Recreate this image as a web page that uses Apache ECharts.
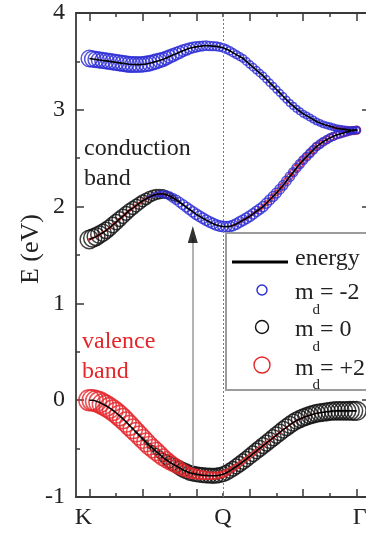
<!DOCTYPE html>
<html>
<head>
<meta charset="utf-8">
<script src="https://cdn.jsdelivr.net/npm/echarts@6/dist/echarts.min.js"></script>
<style>
  html, body { margin: 0; padding: 0; background: #ffffff; }
  #chart { width: 366px; height: 537px; }
</style>
</head>
<body>
<div id="chart"></div>
<script>
// k-path sampling between K (0), Q (5) and Γ (10)
const kPoints = [0, 0.125, 0.25, 0.375, 0.5, 0.625, 0.75, 0.875, 1, 1.125,
  1.25, 1.375, 1.5, 1.625, 1.75, 1.875, 2, 2.125, 2.25, 2.375,
  2.5, 2.625, 2.75, 2.875, 3, 3.125, 3.25, 3.375, 3.5, 3.625,
  3.75, 3.875, 4, 4.125, 4.25, 4.375, 4.5, 4.625, 4.75, 4.875,
  5, 5.125, 5.25, 5.375, 5.5, 5.625, 5.75, 5.875, 6, 6.125,
  6.25, 6.375, 6.5, 6.625, 6.75, 6.875, 7, 7.125, 7.25, 7.375,
  7.5, 7.625, 7.75, 7.875, 8, 8.125, 8.25, 8.375, 8.5, 8.625,
  8.75, 8.875, 9, 9.125, 9.25, 9.375, 9.5, 9.625, 9.75, 9.875,
  10];

// high-symmetry point labels
const kLabelPositions = [0, 5, 10];
const kLabelNames = ['K', 'Q', 'Γ'];

// band energies (eV)
const upperCondEnergy = [3.53, 3.525, 3.52, 3.515, 3.51, 3.505, 3.50, 3.495, 3.49, 3.485,
  3.48, 3.475, 3.47, 3.468, 3.467, 3.467, 3.47, 3.474, 3.48, 3.49,
  3.50, 3.51, 3.52, 3.535, 3.55, 3.565, 3.58, 3.595, 3.61, 3.623,
  3.635, 3.643, 3.65, 3.656, 3.66, 3.662, 3.66, 3.658, 3.655, 3.648,
  3.64, 3.626, 3.61, 3.59, 3.57, 3.55, 3.53, 3.50, 3.47, 3.44,
  3.41, 3.38, 3.35, 3.315, 3.28, 3.245, 3.21, 3.175, 3.14, 3.105,
  3.07, 3.04, 3.01, 2.985, 2.96, 2.94, 2.92, 2.90, 2.88, 2.865,
  2.85, 2.84, 2.83, 2.82, 2.81, 2.805, 2.80, 2.795, 2.79, 2.79,
  2.79];
const lowerCondEnergy = [1.66, 1.675, 1.69, 1.71, 1.73, 1.755, 1.78, 1.81, 1.84, 1.87,
  1.90, 1.93, 1.96, 1.985, 2.01, 2.035, 2.06, 2.08, 2.10, 2.115,
  2.125, 2.13, 2.13, 2.123, 2.11, 2.09, 2.07, 2.045, 2.02, 1.995,
  1.97, 1.945, 1.92, 1.90, 1.88, 1.86, 1.84, 1.825, 1.81, 1.80,
  1.795, 1.793, 1.795, 1.805, 1.82, 1.84, 1.86, 1.88, 1.90, 1.925,
  1.95, 1.975, 2.00, 2.035, 2.07, 2.105, 2.14, 2.18, 2.22, 2.265,
  2.31, 2.355, 2.40, 2.44, 2.48, 2.515, 2.55, 2.585, 2.62, 2.645,
  2.67, 2.69, 2.71, 2.725, 2.74, 2.75, 2.76, 2.77, 2.78, 2.785,
  2.79];
const valenceEnergy = [0.00, 0.00, -0.01, -0.022, -0.04, -0.058, -0.08, -0.104, -0.13, -0.16,
  -0.19, -0.225, -0.26, -0.295, -0.33, -0.365, -0.40, -0.435, -0.47, -0.50,
  -0.53, -0.56, -0.59, -0.615, -0.64, -0.66, -0.68, -0.70, -0.72, -0.735,
  -0.75, -0.758, -0.765, -0.77, -0.775, -0.778, -0.78, -0.781, -0.78, -0.774,
  -0.765, -0.75, -0.73, -0.708, -0.685, -0.66, -0.635, -0.608, -0.58, -0.553,
  -0.525, -0.498, -0.47, -0.443, -0.415, -0.388, -0.36, -0.333, -0.305, -0.28,
  -0.255, -0.232, -0.21, -0.194, -0.18, -0.167, -0.155, -0.145, -0.135, -0.13,
  -0.125, -0.12, -0.115, -0.112, -0.11, -0.11, -0.11, -0.11, -0.11, -0.11,
  -0.11];

// orbital weights (m_d = -2, 0, +2) along each band
const upperCondWeightMinus2 = [0.78, 0.77, 0.76, 0.755, 0.75, 0.75, 0.75, 0.75, 0.75, 0.75,
  0.75, 0.75, 0.75, 0.745, 0.74, 0.735, 0.73, 0.725, 0.72, 0.71,
  0.70, 0.68, 0.66, 0.64, 0.62, 0.605, 0.59, 0.57, 0.55, 0.53,
  0.51, 0.495, 0.48, 0.465, 0.45, 0.44, 0.43, 0.42, 0.41, 0.405,
  0.40, 0.395, 0.39, 0.38, 0.37, 0.365, 0.36, 0.355, 0.35, 0.35,
  0.35, 0.345, 0.34, 0.34, 0.34, 0.335, 0.33, 0.33, 0.33, 0.325,
  0.32, 0.32, 0.32, 0.315, 0.31, 0.31, 0.31, 0.305, 0.30, 0.30,
  0.30, 0.30, 0.30, 0.30, 0.30, 0.30, 0.30, 0.30, 0.30, 0.30,
  0.30];
const upperCondWeightPlus2 = [0, 0, 0, 0, 0, 0, 0, 0, 0, 0,
  0, 0, 0, 0, 0, 0, 0, 0, 0, 0,
  0, 0, 0, 0, 0, 0, 0, 0, 0, 0,
  0, 0, 0, 0, 0, 0, 0, 0, 0, 0,
  0, 0, 0, 0, 0, 0, 0, 0, 0, 0,
  0, 0, 0, 0, 0, 0, 0, 0, 0, 0,
  0, 0, 0, 0, 0, 0, 0, 0, 0, 0,
  0, 0, 0.10, 0.12, 0.15, 0.18, 0.20, 0.24, 0.28, 0.32,
  0.35];

const lowerCondWeightZero = [0.88, 0.86, 0.84, 0.82, 0.80, 0.78, 0.76, 0.74, 0.72, 0.70,
  0.68, 0.66, 0.64, 0.62, 0.60, 0.58, 0.56, 0.54, 0.52, 0.50,
  0.47, 0.44, 0.40, 0.35, 0.30, 0.24, 0.18, 0.13, 0.08, 0.05,
  0.02, 0, 0, 0, 0, 0, 0, 0, 0, 0,
  0, 0, 0, 0, 0, 0, 0, 0, 0, 0,
  0, 0, 0, 0, 0, 0, 0, 0, 0, 0,
  0, 0, 0, 0, 0, 0, 0, 0, 0, 0,
  0, 0, 0, 0, 0, 0, 0, 0, 0, 0,
  0];
const lowerCondWeightMinus2 = [0, 0, 0, 0, 0, 0, 0, 0, 0, 0,
  0, 0, 0, 0, 0, 0, 0, 0.05, 0.10, 0.15,
  0.20, 0.25, 0.30, 0.34, 0.38, 0.405, 0.43, 0.445, 0.46, 0.47,
  0.48, 0.49, 0.50, 0.50, 0.50, 0.50, 0.50, 0.50, 0.50, 0.50,
  0.50, 0.50, 0.50, 0.50, 0.50, 0.50, 0.50, 0.50, 0.50, 0.495,
  0.49, 0.485, 0.48, 0.475, 0.47, 0.465, 0.46, 0.455, 0.45, 0.445,
  0.44, 0.435, 0.43, 0.425, 0.42, 0.415, 0.41, 0.405, 0.40, 0.395,
  0.39, 0.385, 0.38, 0.375, 0.37, 0.365, 0.36, 0.355, 0.35, 0.345,
  0.34];
const lowerCondWeightPlus2 = [0.08, 0.08, 0.08, 0.08, 0.08, 0.085, 0.09, 0.09, 0.09, 0.095,
  0.10, 0.10, 0.10, 0.10, 0.10, 0.10, 0.10, 0.10, 0.10, 0.10,
  0.10, 0.10, 0.10, 0.09, 0.08, 0.07, 0.06, 0.05, 0.04, 0.03,
  0.02, 0.01, 0, 0, 0, 0, 0, 0, 0, 0,
  0, 0, 0.04, 0.06, 0.08, 0.095, 0.11, 0.125, 0.14, 0.155,
  0.17, 0.185, 0.20, 0.21, 0.22, 0.23, 0.24, 0.25, 0.26, 0.27,
  0.28, 0.29, 0.30, 0.305, 0.31, 0.315, 0.32, 0.325, 0.33, 0.335,
  0.34, 0.345, 0.35, 0.35, 0.35, 0.35, 0.35, 0.355, 0.36, 0.37,
  0.38];

const valenceWeightZero = [0, 0, 0, 0, 0, 0, 0, 0, 0, 0.01,
  0.02, 0.035, 0.05, 0.075, 0.10, 0.125, 0.15, 0.185, 0.22, 0.26,
  0.30, 0.36, 0.42, 0.485, 0.55, 0.60, 0.64, 0.66, 0.68, 0.69,
  0.70, 0.70, 0.70, 0.70, 0.70, 0.70, 0.70, 0.70, 0.70, 0.70,
  0.70, 0.70, 0.70, 0.70, 0.71, 0.715, 0.72, 0.725, 0.73, 0.735,
  0.74, 0.745, 0.75, 0.755, 0.76, 0.765, 0.77, 0.775, 0.78, 0.785,
  0.79, 0.795, 0.80, 0.805, 0.81, 0.815, 0.82, 0.825, 0.83, 0.835,
  0.84, 0.845, 0.85, 0.855, 0.86, 0.865, 0.87, 0.875, 0.88, 0.89,
  0.90];
const valenceWeightPlus2 = [1.00, 1.00, 1.00, 1.00, 0.99, 0.985, 0.98, 0.975, 0.97, 0.965,
  0.96, 0.95, 0.94, 0.93, 0.92, 0.91, 0.90, 0.89, 0.88, 0.865,
  0.85, 0.82, 0.79, 0.755, 0.72, 0.68, 0.64, 0.60, 0.56, 0.53,
  0.50, 0.475, 0.45, 0.425, 0.40, 0.38, 0.36, 0.34, 0.32, 0.31,
  0.30, 0.285, 0.27, 0.255, 0.24, 0.225, 0.21, 0.20, 0.19, 0.18,
  0.17, 0.16, 0.15, 0.14, 0.13, 0.12, 0.11, 0.10, 0.09, 0.08,
  0.07, 0.06, 0.05, 0.045, 0.04, 0.035, 0.03, 0.025, 0.02, 0.01,
  0, 0, 0, 0, 0, 0, 0, 0, 0, 0,
  0];

// optical transition arrow: k position and energy span
const arrowK = 3.87;
const arrowEnergy = [-0.69, 1.80];

const FONT = "'Liberation Serif', 'Times New Roman', serif";
const AXIS_COLOR = '#3a3a3a';
const TEXT_COLOR = '#222222';
const COLOR_MINUS2 = '#2b2bd6';
const COLOR_ZERO = '#111111';
const COLOR_PLUS2 = '#e3262a';
const SIZE_SCALE = 21; // symbol diameter (px) for unit weight

function weighted(energies, weights) {
  const pts = [];
  kPoints.forEach(function (k, i) {
    if (weights[i] > 0) pts.push([k, energies[i], weights[i]]);
  });
  return pts;
}
function curve(energies) {
  return kPoints.map(function (k, i) { return [k, energies[i]]; });
}

function orbitalSeries(name, color, data, z) {
  return {
    name: name, type: 'scatter', z: z,
    symbol: 'circle',
    symbolSize: function (v) { return v[2] * SIZE_SCALE; },
    itemStyle: { color: 'rgba(0,0,0,0)', borderColor: color, borderWidth: 1.5 },
    emphasis: { disabled: true },
    data: data
  };
}
function energySeries(energies, extra) {
  return Object.assign({
    name: 'energy', type: 'line', z: 6,
    showSymbol: false, smooth: true,
    lineStyle: { color: '#000000', width: 1.6 },
    emphasis: { disabled: true },
    data: curve(energies)
  }, extra || {});
}

const tickStyle = { color: AXIS_COLOR, width: 1.5 };
function kAxis(position, ticks, showLine, tickLen) {
  return {
    type: 'value', position: position, min: -0.5, max: 10.5,
    axisLine: { show: showLine, onZero: false, lineStyle: { color: AXIS_COLOR, width: 1.8 } },
    axisTick: { show: true, inside: true, length: tickLen, customValues: ticks, lineStyle: tickStyle },
    axisLabel: { show: false },
    splitLine: { show: false }
  };
}
function eAxis(position, showLabels) {
  return {
    type: 'value', position: position, min: -1, max: 4, interval: 1,
    axisLine: { show: true, onZero: false, lineStyle: { color: AXIS_COLOR, width: 1.8 } },
    axisTick: { show: true, inside: true, length: 8, lineStyle: tickStyle },
    minorTick: { show: true, splitNumber: 2, length: 4, lineStyle: tickStyle },
    axisLabel: { show: showLabels, margin: 11, fontFamily: FONT, fontSize: 24, color: TEXT_COLOR },
    splitLine: { show: false },
    minorSplitLine: { show: false }
  };
}

const bottomAxis = kAxis('bottom', [0, 2, 4, 6, 8, 10], true, 8);
bottomAxis.axisLabel = {
  show: true, customValues: kLabelPositions, margin: 9,
  fontFamily: FONT, fontSize: 24, color: TEXT_COLOR,
  formatter: function (v) {
    const i = kLabelPositions.indexOf(v);
    return ['{k|', '{q|', '{g|'][i] + kLabelNames[i] + '}';
  },
  rich: {
    k: { fontFamily: FONT, fontSize: 24, color: TEXT_COLOR, padding: [0, 12, 0, 0] },
    q: { fontFamily: FONT, fontSize: 24, color: TEXT_COLOR },
    g: { fontFamily: FONT, fontSize: 24, color: TEXT_COLOR, padding: [0, 0, 0, 6] }
  }
};

function label(x, y, text, size, color, z) {
  return {
    type: 'text', x: x, y: y, z: z || 20,
    style: {
      text: text, font: size + 'px ' + FONT, fill: color || TEXT_COLOR,
      align: 'left', verticalAlign: 'middle', textAlign: 'left', textVerticalAlign: 'middle'
    }
  };
}

const legendRows = [
  { color: COLOR_MINUS2, r: 5, cy: 290, baseline: 301, text: '= -2' },
  { color: COLOR_ZERO, r: 6.5, cy: 327, baseline: 338, text: '= 0' },
  { color: COLOR_PLUS2, r: 8, cy: 365, baseline: 376.5, text: '= +2' }
];
const legendGraphics = [
  { type: 'rect', z: 50, shape: { x: 226, y: 233, width: 150, height: 157 },
    style: { fill: '#ffffff', stroke: '#9c9c9c', lineWidth: 2 } },
  { type: 'line', z: 51, shape: { x1: 232, y1: 262, x2: 288, y2: 262 },
    style: { stroke: '#000000', lineWidth: 3 } },
  label(295, 259, 'energy', 24, TEXT_COLOR, 51)
];
legendRows.forEach(function (row) {
  legendGraphics.push({ type: 'circle', z: 51, shape: { cx: 262, cy: row.cy, r: row.r },
    style: { fill: 'none', stroke: row.color, lineWidth: 1.4 } });
  legendGraphics.push(label(295, row.baseline - 8, 'm', 24, TEXT_COLOR, 51));
  legendGraphics.push(label(312.5, row.baseline + 9, 'd', 15, TEXT_COLOR, 51));
  legendGraphics.push(label(320, row.baseline - 8, row.text, 24, TEXT_COLOR, 51));
});

const option = {
  animation: false,
  backgroundColor: '#ffffff',
  grid: { left: 76, right: -4, top: 13, bottom: 40, outerBoundsMode: 'none' },
  xAxis: [
    bottomAxis,
    kAxis('bottom', [1, 3, 5, 7, 9], false, 4),
    kAxis('top', [0, 2, 4, 6, 8, 10], true, 8),
    kAxis('top', [1, 3, 5, 7, 9], false, 4)
  ],
  yAxis: [eAxis('left', true), eAxis('right', false)],
  series: [
    orbitalSeries('m_d = 0', COLOR_ZERO,
      weighted(lowerCondEnergy, lowerCondWeightZero).concat(weighted(valenceEnergy, valenceWeightZero)), 2),
    orbitalSeries('m_d = +2', COLOR_PLUS2,
      weighted(upperCondEnergy, upperCondWeightPlus2)
        .concat(weighted(lowerCondEnergy, lowerCondWeightPlus2))
        .concat(weighted(valenceEnergy, valenceWeightPlus2)), 3),
    orbitalSeries('m_d = -2', COLOR_MINUS2,
      weighted(upperCondEnergy, upperCondWeightMinus2).concat(weighted(lowerCondEnergy, lowerCondWeightMinus2)), 4),
    energySeries(upperCondEnergy, {
      markLine: {
        silent: true, symbol: ['none', 'none'], label: { show: false },
        lineStyle: { color: '#7a7a7a', width: 1, type: [2, 2] },
        data: [{ xAxis: 5 }]
      }
    }),
    energySeries(lowerCondEnergy),
    energySeries(valenceEnergy, {
      markLine: {
        silent: true, symbol: ['none', 'none'], label: { show: false },
        lineStyle: { color: '#9a9a9a', width: 1.5, type: 'solid' },
        data: [[{ coord: [arrowK, arrowEnergy[0]] }, { coord: [arrowK, arrowEnergy[1] - 0.12] }]]
      }
    }),
    {
      name: 'transition', type: 'scatter', z: 7,
      symbol: 'triangle', symbolSize: [10, 17], symbolOffset: [0, '50%'],
      itemStyle: { color: '#000000' },
      emphasis: { disabled: true },
      data: [[arrowK, arrowEnergy[1]]]
    }
  ],
  graphic: [
    { type: 'text', x: 31, y: 249, rotation: Math.PI / 2,
      style: { text: 'E (eV)', font: '26px ' + FONT, fill: TEXT_COLOR,
        align: 'center', verticalAlign: 'middle', textAlign: 'center', textVerticalAlign: 'middle' } },
    label(84, 149, 'conduction', 24),
    label(84, 179, 'band', 24),
    label(82, 341.5, 'valence', 24, COLOR_PLUS2),
    label(82, 371.5, 'band', 24, COLOR_PLUS2)
  ].concat(legendGraphics)
};

const chart = echarts.init(document.getElementById('chart'), null, { renderer: 'canvas' });
chart.setOption(option);
</script>
</body>
</html>
